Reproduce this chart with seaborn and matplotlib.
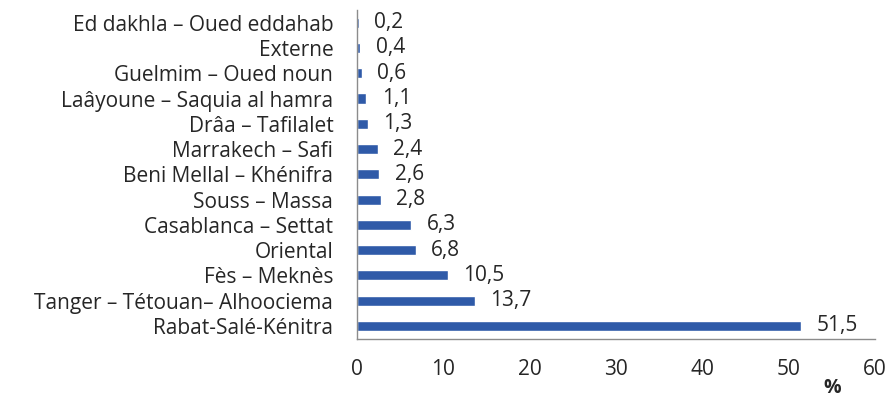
import numpy as np
import matplotlib
matplotlib.use("Agg")
import matplotlib.pyplot as plt
import seaborn as sns

regions = [
    "Ed dakhla – Oued eddahab",
    "Externe",
    "Guelmim – Oued noun",
    "Laâyoune – Saquia al hamra",
    "Drâa – Tafilalet",
    "Marrakech – Safi",
    "Beni Mellal – Khénifra",
    "Souss – Massa",
    "Casablanca – Settat",
    "Oriental",
    "Fès – Meknès",
    "Tanger – Tétouan– Alhoociema",
    "Rabat-Salé-Kénitra",
]
shares = [0.2, 0.4, 0.6, 1.1, 1.3, 2.4, 2.6, 2.8, 6.3, 6.8, 10.5, 13.7, 51.5]
x_ticks = [0, 10, 20, 30, 40, 50, 60]

sns.set_style("white")
plt.rcParams["font.family"] = ["Open Sans", "DejaVu Sans"]

BAR = "#2F5AA8"
AXIS = "#8C8C8C"
TXT = "#262626"
FS = 15

fig, ax = plt.subplots(figsize=(8.9, 4.03), dpi=100)
fig.subplots_adjust(left=0.401, right=0.983, top=0.975, bottom=0.16)

sns.barplot(x=shares, y=regions, orient="h", color=BAR, width=0.4,
            saturation=1, ax=ax)

ax.set_xlim(0, 60)
ax.set_ylim(len(regions) - 0.5, -0.5)
ax.set_xticks(x_ticks)
ax.set_xticklabels([str(t) for t in x_ticks], fontsize=FS, color=TXT)
ax.tick_params(axis="x", length=6, width=1, color=AXIS, direction="out", pad=9)

# category labels without marks; tick marks at category boundaries
ax.tick_params(axis="y", which="major", length=0, pad=17, labelsize=FS,
               labelcolor=TXT)
ax.set_yticks(np.arange(-0.5, len(regions), 1.0), minor=True)
ax.tick_params(axis="y", which="minor", length=6, width=1, color=AXIS)

for s in ["top", "right"]:
    ax.spines[s].set_visible(False)
for s in ["left", "bottom"]:
    ax.spines[s].set_color(AXIS)
    ax.spines[s].set_linewidth(1)

labels = [f"{v:.1f}".replace(".", ",") for v in shares]
ax.bar_label(ax.containers[0], labels=labels, padding=11, fontsize=FS,
             color=TXT)

ax.set_xlabel("")
ax.set_ylabel("")
fig.text(0.935, 0.012, "%", fontsize=14, fontweight="bold", color=TXT,
         ha="center", va="bottom")

fig.savefig("out.png", dpi=100)
